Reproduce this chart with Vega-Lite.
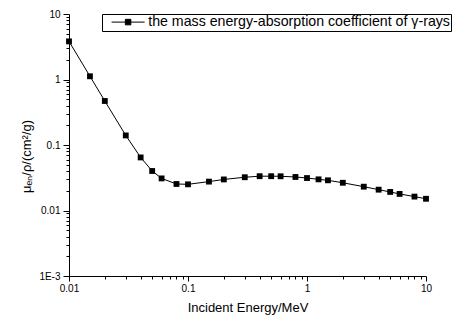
{
  "$schema": "https://vega.github.io/schema/vega-lite/v6.json",
  "width": 357,
  "height": 262,
  "autosize": "none",
  "padding": {"left": 69, "top": 14, "right": 28, "bottom": 44},
  "config": {
    "font": "Liberation Sans",
    "view": {"stroke": null},
    "axis": {
      "grid": false,
      "domainColor": "#000",
      "domainWidth": 1,
      "tickColor": "#000",
      "tickWidth": 1,
      "labelColor": "#000",
      "labelFontSize": 10,
      "titleColor": "#000",
      "titleFontSize": 13,
      "titleFontWeight": "normal",
      "labelOverlap": false,
      "labelBound": false,
      "labelFlush": false
    }
  },
  "data": {
    "values": [
      {"energy": 0.01, "mu": 3.82, "series": "the mass energy-absorption coefficient of γ-rays"},
      {"energy": 0.015, "mu": 1.12, "series": "the mass energy-absorption coefficient of γ-rays"},
      {"energy": 0.02, "mu": 0.47, "series": "the mass energy-absorption coefficient of γ-rays"},
      {"energy": 0.03, "mu": 0.14, "series": "the mass energy-absorption coefficient of γ-rays"},
      {"energy": 0.04, "mu": 0.0646, "series": "the mass energy-absorption coefficient of γ-rays"},
      {"energy": 0.05, "mu": 0.0401, "series": "the mass energy-absorption coefficient of γ-rays"},
      {"energy": 0.06, "mu": 0.0309, "series": "the mass energy-absorption coefficient of γ-rays"},
      {"energy": 0.08, "mu": 0.0254, "series": "the mass energy-absorption coefficient of γ-rays"},
      {"energy": 0.1, "mu": 0.0251, "series": "the mass energy-absorption coefficient of γ-rays"},
      {"energy": 0.15, "mu": 0.0276, "series": "the mass energy-absorption coefficient of γ-rays"},
      {"energy": 0.2, "mu": 0.0298, "series": "the mass energy-absorption coefficient of γ-rays"},
      {"energy": 0.3, "mu": 0.0322, "series": "the mass energy-absorption coefficient of γ-rays"},
      {"energy": 0.4, "mu": 0.0334, "series": "the mass energy-absorption coefficient of γ-rays"},
      {"energy": 0.5, "mu": 0.0334, "series": "the mass energy-absorption coefficient of γ-rays"},
      {"energy": 0.6, "mu": 0.0333, "series": "the mass energy-absorption coefficient of γ-rays"},
      {"energy": 0.8, "mu": 0.0325, "series": "the mass energy-absorption coefficient of γ-rays"},
      {"energy": 1.0, "mu": 0.0313, "series": "the mass energy-absorption coefficient of γ-rays"},
      {"energy": 1.25, "mu": 0.0299, "series": "the mass energy-absorption coefficient of γ-rays"},
      {"energy": 1.5, "mu": 0.0289, "series": "the mass energy-absorption coefficient of γ-rays"},
      {"energy": 2, "mu": 0.0265, "series": "the mass energy-absorption coefficient of γ-rays"},
      {"energy": 3, "mu": 0.0231, "series": "the mass energy-absorption coefficient of γ-rays"},
      {"energy": 4, "mu": 0.0208, "series": "the mass energy-absorption coefficient of γ-rays"},
      {"energy": 5, "mu": 0.0192, "series": "the mass energy-absorption coefficient of γ-rays"},
      {"energy": 6, "mu": 0.0179, "series": "the mass energy-absorption coefficient of γ-rays"},
      {"energy": 8, "mu": 0.0163, "series": "the mass energy-absorption coefficient of γ-rays"},
      {"energy": 10, "mu": 0.0151, "series": "the mass energy-absorption coefficient of γ-rays"}
    ]
  },
  "encoding": {
    "x": {
      "field": "energy",
      "type": "quantitative",
      "scale": {"type": "log", "domain": [0.01, 10], "nice": false},
      "axis": {
        "title": "Incident Energy/MeV",
        "values": [0.01, 0.02, 0.03, 0.04, 0.05, 0.06, 0.07, 0.08, 0.09, 0.1, 0.2, 0.3, 0.4, 0.5, 0.6, 0.7, 0.8, 0.9, 1, 2, 3, 4, 5, 6, 7, 8, 9, 10],
        "labelExpr": "abs(log(datum.value)/LN10 - round(log(datum.value)/LN10)) < 1e-6 ? format(datum.value, '~g') : ''",
        "tickSize": {"condition": {"test": "abs(log(datum.value)/LN10 - round(log(datum.value)/LN10)) < 1e-6", "value": 5}, "value": 3},
        "labelPadding": 2,
        "titlePadding": 8
      }
    },
    "y": {
      "field": "mu",
      "type": "quantitative",
      "scale": {"type": "log", "domain": [0.001, 10], "nice": false},
      "axis": {
        "title": "μₑₙ/ρ/(cm²/g)",
        "titleY": 142,
        "values": [0.001, 0.002, 0.003, 0.004, 0.005, 0.006, 0.007, 0.008, 0.009, 0.01, 0.02, 0.03, 0.04, 0.05, 0.06, 0.07, 0.08, 0.09, 0.1, 0.2, 0.3, 0.4, 0.5, 0.6, 0.7, 0.8, 0.9, 1, 2, 3, 4, 5, 6, 7, 8, 9, 10],
        "labelExpr": "abs(log(datum.value)/LN10 - round(log(datum.value)/LN10)) < 1e-6 ? (datum.value < 0.005 ? '1E-3' : format(datum.value, '~g')) : ''",
        "tickSize": {"condition": {"test": "abs(log(datum.value)/LN10 - round(log(datum.value)/LN10)) < 1e-6", "value": 6}, "value": 3},
        "labelPadding": 3,
        "titlePadding": 5
      }
    },
    "color": {
      "field": "series",
      "type": "nominal",
      "scale": {"range": ["#000000"]},
      "legend": {
        "title": null,
        "orient": "none",
        "legendX": 33,
        "legendY": 0,
        "symbolType": "M-3,0H3M-0.5,-0.5H0.5V0.5H-0.5Z",
        "symbolSize": 121,
        "symbolOffset": 18,
        "symbolFillColor": "#000",
        "symbolStrokeColor": "#000",
        "symbolStrokeWidth": 1,
        "labelFontSize": 14.2,
        "labelColor": "#000",
        "labelLimit": 400,
        "labelOffset": 13,
        "strokeColor": "#000",
        "fillColor": "#fff",
        "padding": 1
      }
    }
  },
  "layer": [
    {"mark": {"type": "line", "strokeWidth": 1}},
    {"mark": {"type": "point", "shape": "square", "filled": true, "size": 34, "opacity": 1}}
  ]
}
